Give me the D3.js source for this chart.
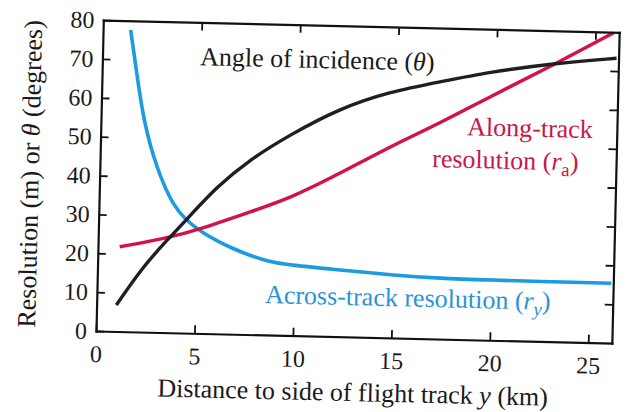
<!DOCTYPE html>
<html>
<head>
<meta charset="utf-8">
<script src="https://cdn.jsdelivr.net/npm/d3@7"></script>
<style>
  body { margin: 0; background: #fff; }
  svg { display: block; }
  svg text { font-family: "Liberation Serif", "DejaVu Serif", "Times New Roman", serif !important; }
  .axis path, .axis line { stroke: #111; }
  .axis path { stroke-width: 2.2; }
  .axis line { stroke-width: 1.8; }
  .axis text { font-size: 24px; fill: #1a1a1a; }
</style>
</head>
<body>
<svg id="chart"></svg>
<script>
var svg = d3.select("#chart");
var width = 629;
var height = 412;
var serif = "'Liberation Serif', 'DejaVu Serif', 'Times New Roman', serif";
svg.attr("width", width).attr("height", height).attr("font-family", serif);

// values (km, and m or degrees)
var thetaX = [1.0, 2.3, 3.5, 4.45, 5.95, 7.6, 9.6, 12.1, 14.6, 17.2, 19.7, 22.9, 26.1];
var thetaY = [6.8, 16.8, 23.8, 29.1, 37.8, 45.0, 51.6, 58.7, 63.3, 66.2, 69.0, 71.6, 73.3];

var alongX = [1.1, 3.5, 5.15, 7.7, 9.7, 12.2, 14.7, 17.2, 19.7, 22.9, 25.9];
var alongY = [21.8, 24.3, 26.8, 31.6, 35.3, 42.0, 49.2, 55.5, 62.6, 71.2, 79.8];

var acrossX = [1.4, 1.75, 2.15, 2.9, 3.8, 4.45, 5.15, 6.9, 8.6, 9.8, 12.3, 14.9, 17.4, 20, 23, 26.1];
var acrossY = [77.6, 67, 54.5, 41.8, 32.4, 29.1, 26.2, 21.7, 18.9, 18.1, 17.2, 16.2, 15.6, 15.5, 15.4, 15.4];

var xTicks = [0, 5, 10, 15, 20, 25];
var yTicks = [0, 10, 20, 30, 40, 50, 60, 70, 80];

var w = 516, h = 311;
var x = d3.scaleLinear().domain([0, 26.2]).range([0, w]);
var y = d3.scaleLinear().domain([0, 80]).range([h, 0]);

// the scanned figure sits a little tilted
var outer = svg.append("g").attr("transform", "translate(96,331) rotate(1.35)");
var g = outer.append("g").attr("transform", "translate(0," + (-h) + ")");

function zip(xs, ys) {
  return xs.map(function(d, i) { return [d, ys[i]]; });
}

var line = d3.line()
  .x(function(d) { return x(d[0]); })
  .y(function(d) { return y(d[1]); })
  .curve(d3.curveBasis);

g.append("path").datum(zip(acrossX, acrossY))
  .attr("d", line).attr("fill", "none").attr("stroke", "#1b9be0").attr("stroke-width", 3.6);
g.append("path").datum(zip(alongX, alongY))
  .attr("d", line).attr("fill", "none").attr("stroke", "#d3124c").attr("stroke-width", 3.4);
g.append("path").datum(zip(thetaX, thetaY))
  .attr("d", line).attr("fill", "none").attr("stroke", "#1e1e24").attr("stroke-width", 3.4);

// frame with inward ticks
var axes = [
  g.append("g").attr("transform", "translate(0," + h + ")")
    .call(d3.axisBottom(x).tickValues(xTicks).tickSize(-8).tickSizeOuter(0).tickPadding(14)),
  g.append("g")
    .call(d3.axisLeft(y).tickValues(yTicks).tickSize(-8).tickSizeOuter(0).tickPadding(9)),
  g.append("g")
    .call(d3.axisTop(x).tickValues(xTicks.slice(1)).tickSize(-8).tickSizeOuter(0).tickFormat("")),
  g.append("g").attr("transform", "translate(" + w + ",0)")
    .call(d3.axisRight(y).tickValues(yTicks.slice(1, -1)).tickSize(-8).tickSizeOuter(0).tickFormat(""))
];
axes.forEach(function(a) {
  a.attr("class", "axis").attr("font-family", serif).attr("font-size", 24);
  a.select(".domain").attr("stroke-linecap", "square");
});

// axis titles
var xt = g.append("text")
  .attr("x", w / 2).attr("y", h + 64)
  .attr("text-anchor", "middle")
  .style("font-size", "26px").attr("fill", "#1a1a1a");
xt.append("tspan").text("Distance to side of flight track ");
xt.append("tspan").attr("font-style", "italic").text("y");
xt.append("tspan").text(" (km)");

var yt = g.append("text")
  .attr("transform", "translate(-61," + (h / 2) + ") rotate(-90)")
  .attr("text-anchor", "middle")
  .style("font-size", "26px").attr("fill", "#1a1a1a");
yt.append("tspan").text("Resolution (m) or ");
yt.append("tspan").attr("font-style", "italic").text("θ");
yt.append("tspan").text(" (degrees)");

// curve labels
var t1 = g.append("text")
  .attr("x", x(4.96)).attr("y", y(69))
  .style("font-size", "26px").attr("fill", "#1a1a1a");
t1.append("tspan").text("Angle of incidence (");
t1.append("tspan").attr("font-style", "italic").text("θ");
t1.append("tspan").text(")");

g.append("text")
  .attr("x", x(18.6)).attr("y", y(52.6))
  .style("font-size", "26px").attr("fill", "#c8174a")
  .text("Along-track");

var t3 = g.append("text")
  .attr("x", x(16.86)).attr("y", y(44.2))
  .style("font-size", "26px").attr("fill", "#c8174a");
t3.append("tspan").text("resolution (");
t3.append("tspan").attr("font-style", "italic").text("r");
t3.append("tspan").attr("dy", 6).style("font-size", "19px").text("a");
t3.append("tspan").attr("dy", -6).text(")");

var t4 = g.append("text")
  .attr("x", x(8.54)).attr("y", y(8.2))
  .style("font-size", "26px").attr("fill", "#2a93d8");
t4.append("tspan").text("Across-track resolution (");
t4.append("tspan").attr("font-style", "italic").text("r");
t4.append("tspan").attr("dy", 6).attr("font-style", "italic").style("font-size", "19px").text("y");
t4.append("tspan").attr("dy", -6).text(")");
</script>
</body>
</html>
